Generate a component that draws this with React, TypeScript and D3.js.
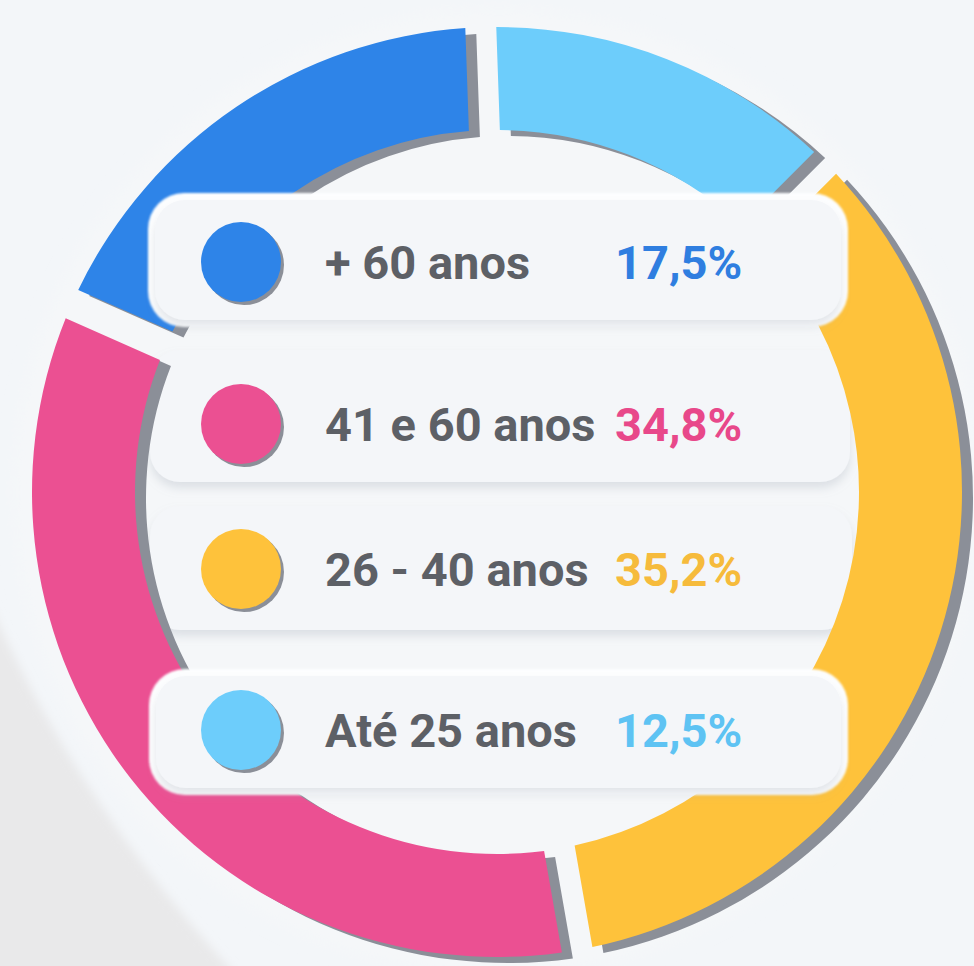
import React from "react";
import * as d3 from "d3";

const categories = ["Até 25 anos", "26 - 40 anos", "41 e 60 anos", "+ 60 anos"];
const values = [12.5, 35.2, 34.8, 17.5];
const valueLabels = ["12,5%", "35,2%", "34,8%", "17,5%"];
const colors = ["#6dcdfb", "#fec23b", "#eb5092", "#2e84e8"];
const textColors = ["#5ec3f3", "#f6bb3c", "#e8488a", "#2f7ee0"];
// legend order top to bottom
const legendOrder = ["+ 60 anos", "41 e 60 anos", "26 - 40 anos", "Até 25 anos"];

const W = 974, H = 966;
const cx = 497, cy = 492;
const R = 465, r = 362;
const rot = (-2 * Math.PI) / 180;

export default function App() {
  const pie = d3
    .pie<number>()
    .sort(null)
    .value((d) => d)
    .startAngle(rot)
    .endAngle(rot + 2 * Math.PI)
    .padAngle(31 / R);
  const arcs = pie(values);
  const arc = d3.arc<d3.PieArcDatum<number>>().innerRadius(r).outerRadius(R).padRadius(R);

  const rowY = d3.scaleOrdinal<string, number>().domain(legendOrder).range([262, 424, 569, 730]);
  const boxes = [
    { y: 200, h: 120, x: 155, w: 686, front: true },
    { y: 350, h: 132, x: 150, w: 700, front: false },
    { y: 506, h: 124, x: 150, w: 702, front: false },
    { y: 676, h: 112, x: 156, w: 685, front: true },
  ];

  const renderBox = (b: any, i: number) => (
    <g key={"box" + i}>
      {b.front && (
        <rect x={b.x - 7} y={b.y - 7} width={b.w + 14} height={b.h + 14} rx={36} fill="#fdfeff" filter="url(#glow)" />
      )}
      <rect x={b.x} y={b.y} width={b.w} height={b.h} rx={30} fill="#f4f6f9" filter="url(#boxShadow)" />
    </g>
  );

  return (
    <svg width={W} height={H} style={{ position: "absolute", left: 0, top: 0 }} xmlns="http://www.w3.org/2000/svg">
      <defs>
        <filter id="boxShadow" x="-10%" y="-20%" width="120%" height="160%">
          <feDropShadow dx="0" dy="6" stdDeviation="5" floodColor="#9aa3b0" floodOpacity="0.28" />
        </filter>
        <filter id="glow" x="-10%" y="-20%" width="120%" height="140%">
          <feGaussianBlur stdDeviation="1" />
        </filter>
        <filter id="halo" x="-20%" y="-20%" width="140%" height="140%">
          <feGaussianBlur stdDeviation="8" />
        </filter>
        <filter id="bgBlur" x="-20%" y="-20%" width="140%" height="140%">
          <feGaussianBlur stdDeviation="5" />
        </filter>
      </defs>
      <rect x={0} y={0} width={W} height={H} fill="#f3f6f9" />
      <path d={`M -20 580 Q 70 800 250 990 L -20 990 Z`} fill="#e9e9ea" filter="url(#bgBlur)" />
      <circle cx={cx} cy={cy} r={R + 18} fill="#f5f7f9" filter="url(#halo)" />

      {boxes.filter((b) => !b.front).map(renderBox)}

      <g transform={`translate(${cx + 11},${cy + 6})`}>
        {arcs.map((a, i) => (
          <path key={"s" + i} d={arc(a) || ""} fill="#8b8f98" />
        ))}
      </g>
      <g transform={`translate(${cx},${cy})`}>
        {arcs.map((a, i) => (
          <path key={"a" + i} d={arc(a) || ""} fill={colors[i]} />
        ))}
      </g>

      {boxes.filter((b) => b.front).map(renderBox)}

      {legendOrder.map((name) => {
        const i = categories.indexOf(name);
        const y = rowY(name);
        return (
          <g key={name}>
            <circle cx={244} cy={y + 3} r={40} fill="#8b8f98" />
            <circle cx={241} cy={y} r={40} fill={colors[i]} />
            <text
              x={325}
              y={y + 17}
              fontFamily="Roboto, 'DejaVu Sans', sans-serif"
              fontWeight={700}
              fontSize={47}
              fill="#5d6066"
            >
              {name}
            </text>
            <text
              x={615}
              y={y + 17}
              fontFamily="Roboto, 'DejaVu Sans', sans-serif"
              fontWeight={700}
              fontSize={47}
              fill={textColors[i]}
            >
              {valueLabels[i]}
            </text>
          </g>
        );
      })}
    </svg>
  );
}
